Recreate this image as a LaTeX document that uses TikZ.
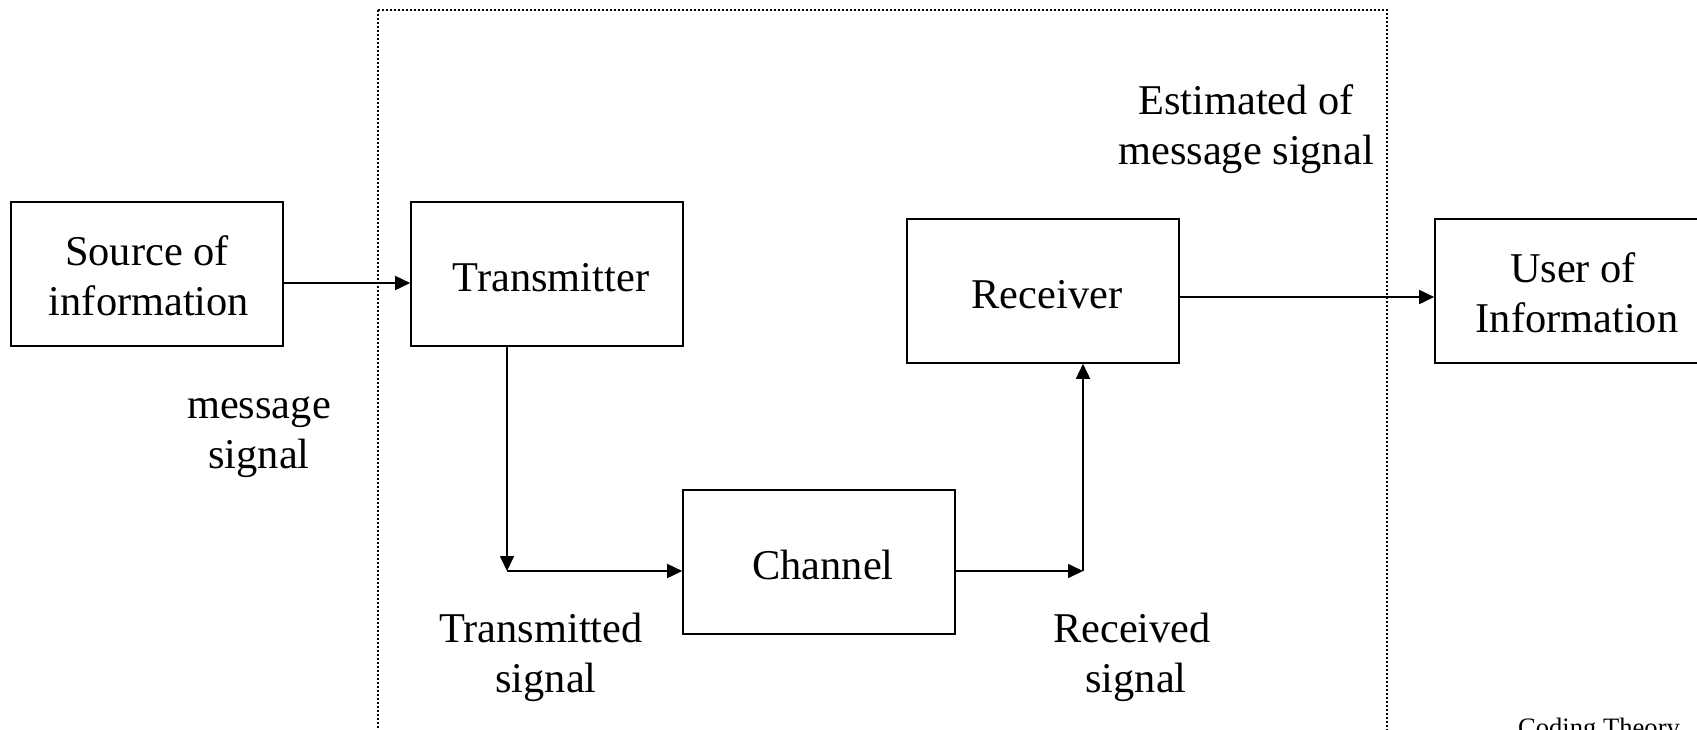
\documentclass[tikz,border=0pt]{standalone}
\usepackage{fontspec}
\setmainfont{Liberation Serif}
\usetikzlibrary{arrows.meta}
\begin{document}
\begin{tikzpicture}[x=1pt,y=-1pt,
  blk/.style={draw,line width=1.6pt,minimum width=272pt,minimum height=144pt,inner sep=0pt},
  lbl/.style={align=center,inner sep=0pt,font=\fontsize{42.4}{50}\selectfont},
  arr/.style={line width=1.6pt,-{Triangle[length=15pt,width=14pt]}},
  frame/.style={line width=1.8pt,dash pattern=on 2pt off 2pt}]
\useasboundingbox (0,0) rectangle (1697,729);
\clip (0,0) rectangle (1697,729);
\fill[white] (0,0) rectangle (1697,729);
\draw[frame] (378,10) rectangle (1387,800);
\node[blk] (src) at (147,274) {};
\node[blk] (tx) at (547,274) {};
\node[blk] (rx) at (1043,291) {};
\node[blk] (ch) at (819,562) {};
\node[blk] (usr) at (1571,291) {};
\node[lbl,xshift=0pt,yshift=-2pt] (srct) at (src.center) {Source of\\\hspace*{4pt}information};
\node[lbl,xshift=4pt,yshift=-3.5pt] (txt) at (tx.center) {Transmitter};
\node[lbl,xshift=4pt,yshift=-3.5pt] (rxt) at (rx.center) {Receiver};
\node[lbl,xshift=4pt,yshift=-3pt] (cht) at (ch.center) {Channel};
\node[lbl,xshift=2pt,yshift=-1.5pt] (usrt) at (usr.center) {User of\\\hspace*{8pt}Information};
\coordinate (c1) at (507,571);
\coordinate (c2) at (1083,571);
\draw[arr] (src.east |- 0,283) -- (tx.west |- 0,283);
\draw[arr] (tx.south -| c1) -- (c1);
\draw[arr] (c1) -- (ch.west |- c1);
\draw[arr] (ch.east |- c2) -- (c2);
\draw[arr] (c2) -- (rx.south -| c2);
\draw[arr] (rx.east |- 0,297) -- (usr.west |- 0,297);
\node[lbl] (ms) at (259,437) {message\\signal};
\node[lbl] (es) at (1246,129) {Estimated of\\message signal};
\node[lbl] (ts) at (541,657) {Transmitted\\\hspace*{10pt}signal};
\node[lbl] (rs) at (1132,657) {Received\\\hspace*{8pt}signal};
\node[anchor=base,inner sep=0pt,font=\fontsize{26.6}{30}\selectfont] (ct) at (1599,736) {Coding Theory};
\end{tikzpicture}
\end{document}
